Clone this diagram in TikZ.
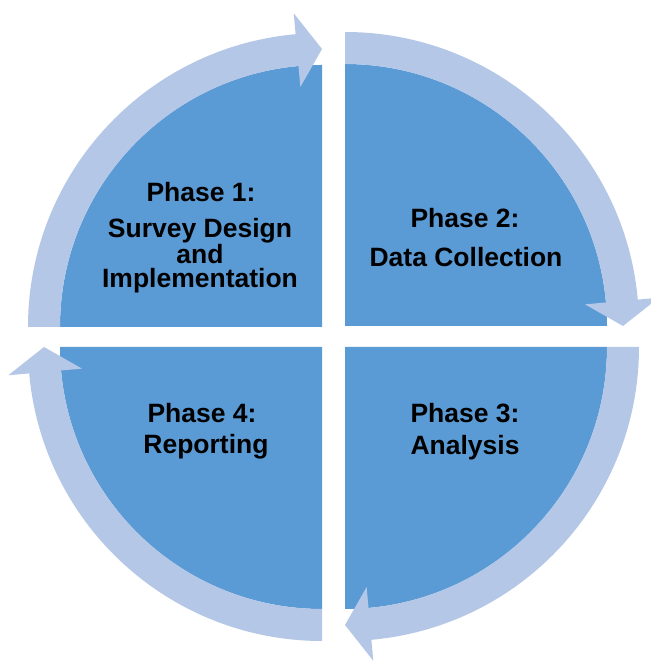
\documentclass[tikz,border=0pt]{standalone}
\usepackage{fontspec}
\setmainfont{Liberation Sans}
\definecolor{darkblue}{HTML}{5B9BD5}
\definecolor{lightblue}{HTML}{B4C7E7}
\begin{document}
\begin{tikzpicture}[x=1pt,y=1pt,
  sector/.style={fill=darkblue},
  band/.style={fill=lightblue},
  lbl/.style={anchor=base,inner sep=0pt,text=black,align=center,font=\fontsize{26.5}{24.5}\selectfont\bfseries}]
\useasboundingbox (0,0) rectangle (651,662);
\clip (0,0) rectangle (651,662);
\fill[white] (0,0) rectangle (651,662);
% quadrant centres
\coordinate (c1) at (322,335);
\coordinate (c2) at (345,336);
\coordinate (c3) at (345,315);
\coordinate (c4) at (322,315);
% dark sectors
\foreach \c/\s in {c1/180, c2/90, c3/0, c4/-90}{
  \pgfmathsetmacro{\e}{\s-90}
  \begin{scope}[shift={(\c)}]
    \fill[sector] (0,0) -- (\s:262pt) arc[start angle=\s, end angle=\e, radius=262pt] -- cycle;
  \end{scope}
}
% light circular arrow bands
\foreach \c/\s in {c1/180, c2/90, c3/0, c4/-90}{
  \pgfmathsetmacro{\e}{\s-90}
  \pgfmathsetmacro{\b}{\s-84.85}
  \begin{scope}[shift={(\c)}]
    \fill[band] (\s:294pt) arc[start angle=\s, end angle=\b, radius=294pt]
      -- (\b:315pt) -- (\e:278pt) -- (\b:241pt) -- (\b:262pt)
      arc[start angle=\b, end angle=\s, radius=262pt] -- cycle;
  \end{scope}
}
% labels
\node[lbl] (p1a) at (201,460) {Phase 1:};
\node[lbl] (p1b) at (200,374) {Survey Design\\and\\Implementation};
\node[lbl] (p2a) at (465,434) {Phase 2:};
\node[lbl] (p2b) at (466,395) {Data Collection};
\node[lbl] (p3a) at (465,239) {Phase 3:};
\node[lbl] (p3b) at (465,207) {Analysis};
\node[lbl] (p4a) at (202,239) {Phase 4:};
\node[lbl] (p4b) at (206,208) {Reporting};
\end{tikzpicture}
\end{document}
